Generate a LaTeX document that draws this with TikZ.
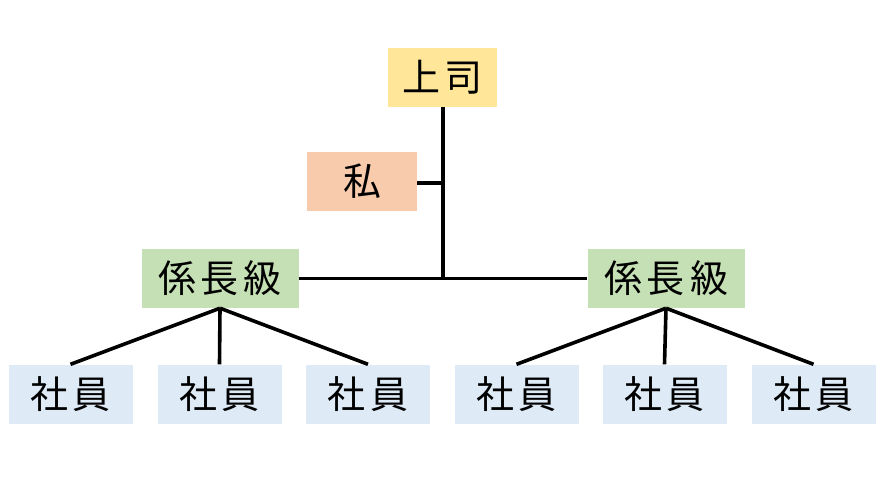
\documentclass[tikz,border=0pt]{standalone}
\usepackage{fontspec}
\newfontfamily\jp{Noto Sans CJK JP}
\definecolor{cboss}{HTML}{FFE699}
\definecolor{cme}{HTML}{F8CBAD}
\definecolor{cmid}{HTML}{C5E0B4}
\definecolor{cemp}{HTML}{DEEBF7}
\newcommand{\gap}{\kern5pt}
\begin{document}
\begin{tikzpicture}[x=1pt,y=-1pt,
  box/.style={inner sep=0pt,minimum height=59pt,font=\jp\fontsize{38}{44}\selectfont},
  conn/.style={line width=3.6pt,black}]
\useasboundingbox (0,0) rectangle (886,498);
\node[box,fill=cboss,minimum width=109pt] (boss) at (442.5,77.5) {上\gap 司};
\node[box,fill=cme,minimum width=110pt] (me) at (362,181) {私};
\node[box,fill=cmid,minimum width=157pt] (kL) at (220,278.5) {係\gap 長\gap 級};
\node[box,fill=cmid,minimum width=157pt] (kR) at (666,278.5) {係\gap 長\gap 級};
\foreach \n/\x in {e1/70.5,e2/219.5,e3/368,e4/516.5,e5/664.5,e6/813.5}
  \node[box,fill=cemp,minimum width=124pt] (\n) at (\x,394) {社\gap 員};
\coordinate (T) at (443,183);
\coordinate (J) at (443,279);
\draw[conn] (boss.south -| T) -- (J);
\draw[conn] (me.east |- T) -- (T);
\draw[conn] (kL.east) -- (kR.west);
\foreach \n in {e1,e2,e3} \draw[conn] (kL.south) -- (\n.north);
\foreach \n in {e4,e5,e6} \draw[conn] (kR.south) -- (\n.north);
\end{tikzpicture}
\end{document}
